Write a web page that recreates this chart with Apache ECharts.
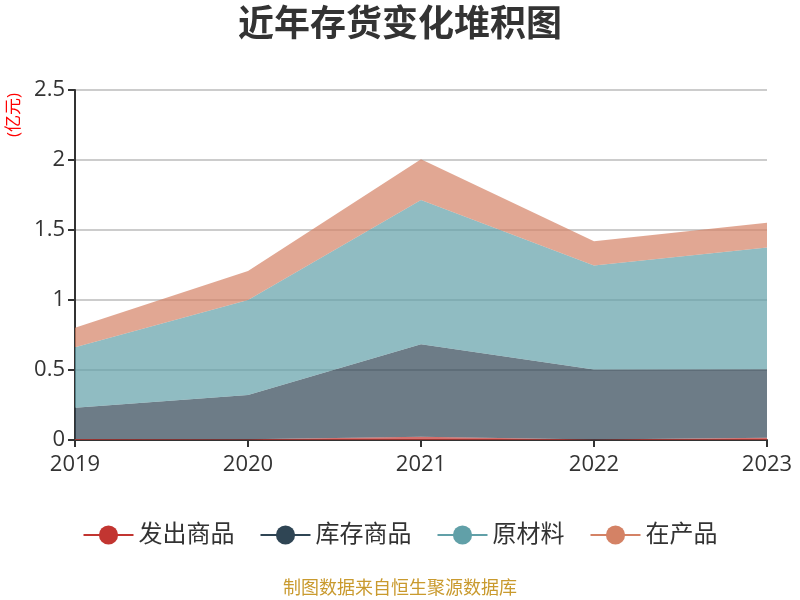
<!DOCTYPE html>
<html><head><meta charset="utf-8">
<script src="https://cdn.jsdelivr.net/npm/echarts@6/dist/echarts.min.js"></script>
<style>html,body{margin:0;padding:0;background:#fff}#c{width:800px;height:600px}</style>
</head><body><div id="c"></div>
<script>
const years = ['2019','2020','2021','2022','2023'];
const fachu = [0.007, 0.005, 0.024, 0.003, 0.016];
const kucun = [0.224, 0.316, 0.66, 0.5, 0.49];
const yuancailiao = [0.431, 0.679, 1.031, 0.743, 0.869];
const zaichanpin = [0.14, 0.207, 0.291, 0.174, 0.176];
const names = ['发出商品','库存商品','原材料','在产品'];
const unitName = '(亿元)';
const colors = ['#c23531','#2f4554','#61a0a8','#d48265'];
const font = '"Open Sans","Noto Sans CJK SC",sans-serif';
const chart = echarts.init(document.getElementById('c'));
function s(name, data, i){
  return {name, type:'line', stack:'total', data, symbol:'circle', showSymbol:false,
    lineStyle:{width:0}, itemStyle:{color:colors[i]}, areaStyle:{color:colors[i], opacity:0.7}};
}
chart.setOption({
  animation:false,
  color: colors,
  textStyle:{fontFamily:font},
  title:{text:'近年存货变化堆积图', left:'center', top:3, textStyle:{fontSize:36, fontWeight:'bold', color:'#333', fontFamily:font}},
  legend:{bottom:48, left:'center', itemWidth:50, itemHeight:24, itemGap:25,
    textStyle:{fontSize:24, color:'#333', fontFamily:font}, lineStyle:{width:2, opacity:1}, data:names},
  graphic:[
    {type:'text', left:'center', bottom:2, style:{text:'制图数据来自恒生聚源数据库', fill:'#c99a2e', font:'18px '+font}},
    {type:'text', x:14, y:115, rotation:Math.PI/2, style:{text:unitName, fill:'#ff0000', font:'17px '+font, align:'center', verticalAlign:'middle'}}
  ],
  grid:{left:75, right:33, top:90, bottom:160},
  xAxis:{type:'category', boundaryGap:false, data:years,
    axisLine:{lineStyle:{color:'#333', width:2}}, axisTick:{show:true, length:7, lineStyle:{width:2}},
    axisLabel:{fontSize:22, color:'#333', margin:14}},
  yAxis:{type:'value', min:0, max:2.5, interval:0.5,
    axisLine:{show:true, lineStyle:{color:'#333', width:2}}, axisTick:{show:true, length:7, lineStyle:{width:2}},
    splitLine:{lineStyle:{color:'#ccc', width:2}},
    axisLabel:{fontSize:22, color:'#333', margin:10}},
  series:[s(names[0],fachu,0), s(names[1],kucun,1), s(names[2],yuancailiao,2), s(names[3],zaichanpin,3)]
});
</script></body></html>
